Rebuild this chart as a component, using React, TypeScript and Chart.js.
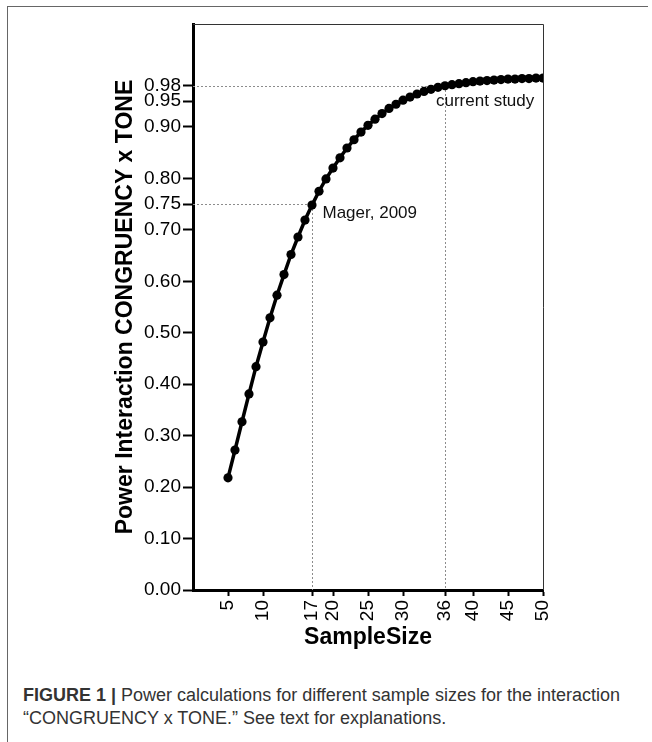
import React, { useEffect, useRef } from "react";
import { Chart, registerables } from "chart.js";

Chart.register(...registerables);

const sampleSizes = [
  5, 6, 7, 8, 9, 10, 11, 12, 13, 14, 15, 16, 17, 18, 19, 20, 21, 22, 23, 24, 25, 26, 27,
  28, 29, 30, 31, 32, 33, 34, 35, 36, 37, 38, 39, 40, 41, 42, 43, 44, 45, 46, 47, 48, 49, 50,
];
const power = [
  0.218, 0.272, 0.327, 0.381, 0.434, 0.482, 0.529, 0.573, 0.613, 0.652, 0.686, 0.719, 0.748,
  0.775, 0.799, 0.82, 0.84, 0.859, 0.875, 0.89, 0.903, 0.915, 0.926, 0.936, 0.944, 0.952,
  0.958, 0.964, 0.969, 0.973, 0.977, 0.98, 0.982, 0.984, 0.986, 0.988, 0.989, 0.99, 0.991,
  0.992, 0.993, 0.993, 0.994, 0.994, 0.995, 0.995,
];
const xTicks = [5, 10, 17, 20, 25, 30, 36, 40, 45, 50];
const yTicks = [0, 0.1, 0.2, 0.3, 0.4, 0.5, 0.6, 0.7, 0.75, 0.8, 0.9, 0.95, 0.98];
const refX = [17, 36];
const refY = [0.75, 0.98];
const refLabels = ["Mager, 2009", "current study"];

const xTitle = "SampleSize";
const yTitle = "Power Interaction CONGRUENCY x TONE";

const FONT = "'Liberation Sans', Arial, Helvetica, sans-serif";

const overlayPlugin = {
  id: "overlay",
  beforeDatasetsDraw(chart: any) {
    const { ctx, chartArea, scales } = chart;
    const { left, right, top, bottom } = chartArea;
    const x = scales.x;
    const y = scales.y;
    ctx.save();
    ctx.strokeStyle = "#333";
    ctx.lineWidth = 1;
    ctx.beginPath();
    ctx.moveTo(left, Math.round(top) + 0.5);
    ctx.lineTo(Math.round(right) + 0.5, Math.round(top) + 0.5);
    ctx.lineTo(Math.round(right) + 0.5, bottom);
    ctx.stroke();

    ctx.strokeStyle = "#8c8c8c";
    ctx.setLineDash([2, 2]);
    refX.forEach((rx, i) => {
      const px = Math.round(x.getPixelForValue(rx)) + 0.5;
      const py = Math.round(y.getPixelForValue(refY[i])) + 0.5;
      ctx.beginPath();
      ctx.moveTo(left, py);
      ctx.lineTo(px, py);
      ctx.lineTo(px, bottom);
      ctx.stroke();
    });
    ctx.restore();
  },
  afterDatasetsDraw(chart: any) {
    const { ctx, scales } = chart;
    const x = scales.x;
    const y = scales.y;
    const offsets = [
      [10.5, 14],
      [-9, 20],
    ];
    ctx.save();
    ctx.fillStyle = "#111";
    ctx.font = `17px ${FONT}`;
    ctx.textAlign = "left";
    ctx.textBaseline = "alphabetic";
    refLabels.forEach((label, i) => {
      const px = x.getPixelForValue(refX[i]) + offsets[i][0];
      const py = y.getPixelForValue(refY[i]) + offsets[i][1];
      ctx.fillText(label, px, py);
    });
    ctx.restore();
  },
};

export default function App() {
  const canvasRef = useRef<HTMLCanvasElement>(null);

  useEffect(() => {
    if (!canvasRef.current) return;
    Chart.defaults.font.family = FONT;
    const chart = new Chart(canvasRef.current, {
      type: "scatter",
      data: {
        datasets: [
          {
            data: sampleSizes.map((s, i) => ({ x: s, y: power[i] })),
            showLine: true,
            borderColor: "#000",
            backgroundColor: "#000",
            borderWidth: 3.5,
            pointRadius: 4.6,
            pointBackgroundColor: "#000",
            pointBorderColor: "#000",
            pointBorderWidth: 0,
          },
        ],
      },
      options: {
        responsive: false,
        animation: false,
        layout: { padding: { left: 112, right: 109, top: 24, bottom: 8.5 } },
        plugins: {
          legend: { display: false },
          tooltip: { enabled: false },
        },
        scales: {
          x: {
            type: "linear",
            min: 0,
            max: 50,
            afterBuildTicks: (scale: any) => {
              scale.ticks = xTicks.map((v) => ({ value: v }));
            },
            afterFit: (scale: any) => {
              scale.height = 61.5;
            },
            ticks: {
              autoSkip: false,
              minRotation: 90,
              maxRotation: 90,
              padding: 4,
              color: "#000",
              font: { size: 19 },
              callback: (v: any) => String(v),
            },
            grid: {
              display: true,
              drawOnChartArea: false,
              drawTicks: true,
              tickLength: 6,
              tickWidth: 2,
              tickColor: "#000",
            },
            border: { display: true, color: "#000", width: 3 },
            title: {
              display: true,
              text: xTitle,
              color: "#000",
              font: { size: 23, weight: "bold" },
              padding: { top: 0, bottom: 0 },
            },
          },
          y: {
            type: "linear",
            min: 0,
            max: 1.1,
            afterBuildTicks: (scale: any) => {
              scale.ticks = yTicks.map((v) => ({ value: v }));
            },
            afterFit: (scale: any) => {
              scale.width = 81;
            },
            ticks: {
              autoSkip: false,
              padding: 2,
              color: "#000",
              font: { size: 19 },
              callback: (v: any) => Number(v).toFixed(2),
            },
            grid: {
              display: true,
              drawOnChartArea: false,
              drawTicks: true,
              tickLength: 10,
              tickWidth: 2,
              tickColor: "#000",
            },
            border: { display: true, color: "#000", width: 3 },
            title: {
              display: true,
              text: yTitle,
              color: "#000",
              font: { size: 23, weight: "bold" },
              padding: { top: 0, bottom: 0 },
            },
          },
        },
      },
      plugins: [overlayPlugin],
    } as any);
    return () => chart.destroy();
  }, []);

  return (
    <div
      style={{
        position: "absolute",
        left: 0,
        top: 0,
        width: 652,
        height: 742,
        overflow: "hidden",
        background: "#fff",
      }}
    >
      <div
        style={{
          position: "absolute",
          left: 7,
          top: 6,
          width: 640,
          height: 760,
          borderLeft: "1.5px solid #666",
          borderTop: "1.5px solid #666",
        }}
      />
      <canvas
        ref={canvasRef}
        width={652}
        height={660}
        style={{ position: "absolute", left: 0, top: 0, width: 652, height: 660 }}
      />
      <div
        style={{
          position: "absolute",
          left: 23,
          top: 684,
          width: 620,
          fontFamily: FONT,
          fontSize: 18,
          lineHeight: "23px",
          color: "#333",
        }}
      >
        <b>FIGURE 1 |</b> Power calculations for different sample sizes for the interaction
        <br />
        “CONGRUENCY x TONE.” See text for explanations.
      </div>
    </div>
  );
}
